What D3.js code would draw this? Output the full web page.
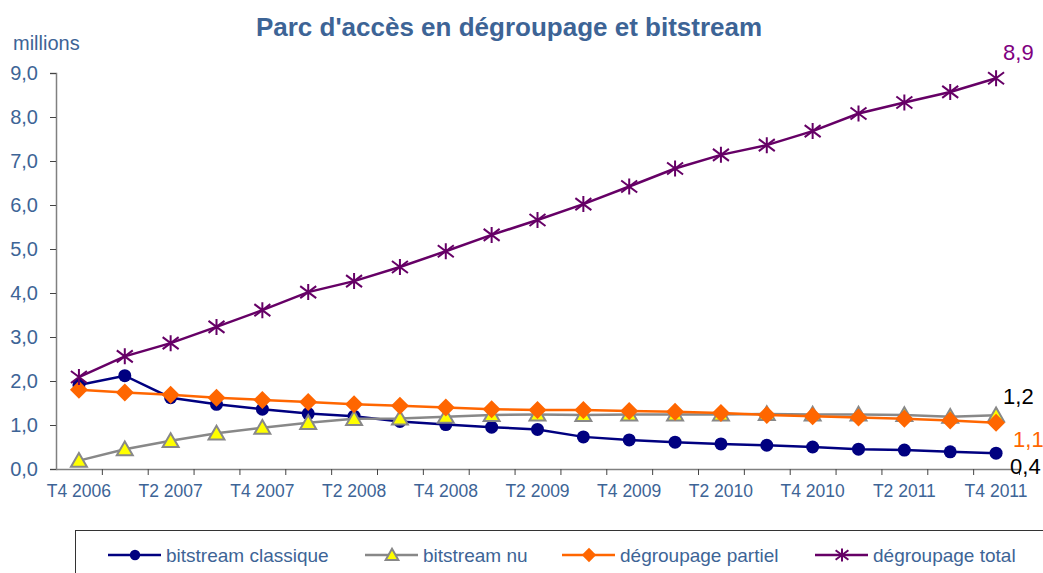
<!DOCTYPE html>
<html>
<head>
<meta charset="utf-8">
<script src="https://cdn.jsdelivr.net/npm/d3@7"></script>
<style>
  body { margin: 0; background: #fff; }
  text { font-family: "Liberation Sans", Arial, sans-serif; }
</style>
</head>
<body>
<script>
// quarters T4 2006 -> T4 2011
const quarters = ["T4 2006","T1 2007","T2 2007","T3 2007","T4 2007","T1 2008","T2 2008","T3 2008",
  "T4 2008","T1 2009","T2 2009","T3 2009","T4 2009","T1 2010","T2 2010","T3 2010","T4 2010",
  "T1 2011","T2 2011","T3 2011","T4 2011"];
const yTicks = [0,1,2,3,4,5,6,7,8,9];

const bitstreamClassique = [1.91,2.12,1.62,1.47,1.36,1.26,1.20,1.08,1.01,0.95,0.90,0.73,0.66,0.61,0.57,0.54,0.50,0.45,0.43,0.39,0.36];
const bitstreamNu = [0.19,0.45,0.64,0.81,0.94,1.05,1.14,1.15,1.19,1.23,1.24,1.23,1.24,1.24,1.24,1.25,1.24,1.24,1.23,1.19,1.22];
const degroupagePartiel = [1.80,1.74,1.69,1.62,1.57,1.52,1.47,1.44,1.40,1.36,1.34,1.34,1.32,1.30,1.27,1.23,1.20,1.17,1.14,1.10,1.05];
const degroupageTotal = [2.09,2.56,2.86,3.23,3.61,4.02,4.27,4.59,4.95,5.32,5.66,6.02,6.42,6.83,7.14,7.36,7.68,8.08,8.33,8.57,8.88];

const seriesNames = ["bitstream classique","bitstream nu","dégroupage partiel","dégroupage total"];
const endLabels = ["0,4","1,2","1,1","8,9"];

const W = 1043, H = 573;
const margin = {top: 73, left: 56, right: 24, bottom: 104};
const width = W - margin.left - margin.right,
      height = H - margin.top - margin.bottom;

const blue = "#3d6496";

const svg = d3.select("body").append("svg")
    .attr("width", W).attr("height", H);

// title
svg.append("text")
    .attr("x", 509).attr("y", 36)
    .attr("text-anchor", "middle")
    .style("font-size", "26px").style("font-weight", "bold")
    .attr("fill", blue)
    .text("Parc d'accès en dégroupage et bitstream");

svg.append("text")
    .attr("x", 13).attr("y", 50)
    .style("font-size", "20px")
    .attr("fill", blue)
    .text("millions");

const g = svg.append("g").attr("transform", `translate(${margin.left},${margin.top})`);

const x = d3.scaleBand().domain(quarters).range([0, width]).padding(0);
const xb = d3.scaleLinear().domain([0, quarters.length]).range([0, width]);
const y = d3.scaleLinear().domain([0, 9]).range([height, 0]);
const cx = d => x(d) + x.bandwidth() / 2;

const fr = d3.formatLocale({decimal: ",", thousands: " ", grouping: [3], currency: ["", "€"]});

// y axis
const yAxis = g.append("g")
    .call(d3.axisLeft(y).tickValues(yTicks).tickSize(6).tickFormat(fr.format(".1f")));
yAxis.select(".domain").attr("stroke", "#808080").attr("stroke-width", 1.5);
yAxis.selectAll(".tick line").attr("stroke", "#444");
yAxis.selectAll("text").attr("fill", blue).style("font-size", "20px").attr("x", -18);

// x axis ticks at category boundaries
const xAxis = g.append("g")
    .attr("transform", `translate(0,${height})`)
    .call(d3.axisBottom(xb).tickValues(d3.range(1, quarters.length + 1)).tickSize(6).tickSizeOuter(0).tickFormat(""));
xAxis.select(".domain").attr("stroke", "#808080").attr("stroke-width", 1.5);
xAxis.selectAll(".tick line").attr("stroke", "#444");

// x labels every other quarter
const xLab = g.append("g")
    .attr("transform", `translate(0,${height})`)
    .call(d3.axisBottom(x).tickValues(quarters.filter((d, i) => i % 2 === 0)).tickSize(0).tickPadding(16));
xLab.select(".domain").remove();
xLab.selectAll("text").attr("fill", blue).style("font-size", "17.5px");

const lineData = [
  {name: seriesNames[0], values: bitstreamClassique, color: "#000080", marker: "circle"},
  {name: seriesNames[1], values: bitstreamNu, color: "#888888", marker: "triangle"},
  {name: seriesNames[2], values: degroupagePartiel, color: "#FF6600", marker: "diamond"},
  {name: seriesNames[3], values: degroupageTotal, color: "#660066", marker: "star"}
];

const line = d3.line().x((d, i) => cx(quarters[i])).y(d => y(d));

function drawMarker(sel, type, color, s) {
  if (type === "circle") {
    sel.append("circle").attr("r", 6.5 * s).attr("fill", color);
  } else if (type === "triangle") {
    sel.append("path").attr("d", d3.symbol().type(d3.symbolTriangle).size(110 * s * s)())
      .attr("transform", `translate(0,${1.5 * s})`)
      .attr("fill", "#FFFF00").attr("stroke", "#888888").attr("stroke-width", 2);
  } else if (type === "diamond") {
    const r = 9 * s;
    sel.append("path").attr("d", `M0,${-r}L${r},0L0,${r}L${-r},0Z`).attr("fill", color);
  } else {
    const r = 8 * s;
    sel.append("path")
      .attr("d", `M${-r},${-r * 0.75}L${r},${r * 0.75}M${-r},${r * 0.75}L${r},${-r * 0.75}M0,${-r}L0,${r}`)
      .attr("stroke", color).attr("stroke-width", 2).attr("fill", "none");
  }
}

lineData.forEach(s => {
  g.append("path").datum(s.values)
    .attr("d", line)
    .attr("fill", "none")
    .attr("stroke", s.color)
    .attr("stroke-width", 2.5);
  g.selectAll(null).data(s.values).join("g")
    .attr("transform", (d, i) => `translate(${cx(quarters[i])},${y(d)})`)
    .each(function() { drawMarker(d3.select(this), s.marker, s.color, 1); });
});

// end labels
const last = quarters[quarters.length - 1];
const endInfo = [
  {text: endLabels[0], v: bitstreamClassique[20], dx: 14, dy: 21, color: "#000"},
  {text: endLabels[1], v: bitstreamNu[20], dx: 7, dy: -11, color: "#000"},
  {text: endLabels[2], v: degroupagePartiel[20], dx: 17, dy: 24, color: "#FF6600"},
  {text: endLabels[3], v: degroupageTotal[20], dx: 7, dy: -18, color: "#800080"}
];
g.selectAll(".endlab").data(endInfo).join("text")
  .attr("x", d => cx(last) + d.dx)
  .attr("y", d => y(d.v) + d.dy)
  .attr("fill", d => d.color)
  .style("font-size", "22px")
  .text(d => d.text);

// legend
svg.append("rect")
  .attr("x", 75.5).attr("y", 530.5).attr("width", 1000).attr("height", 60)
  .attr("fill", "none").attr("stroke", "#333").attr("stroke-width", 1);

const legX = [108, 365, 562, 815];
lineData.forEach((s, i) => {
  const lg = svg.append("g").attr("transform", `translate(${legX[i]},555)`);
  lg.append("line").attr("x1", 0).attr("x2", 53).attr("stroke", s.color).attr("stroke-width", 2.5);
  const m = lg.append("g").attr("transform", "translate(27,0)");
  drawMarker(m, s.marker, s.color, 0.8);
  lg.append("text").attr("x", 58).attr("y", 6.5)
    .attr("fill", blue).style("font-size", "19px").text(s.name);
});
</script>
</body>
</html>
